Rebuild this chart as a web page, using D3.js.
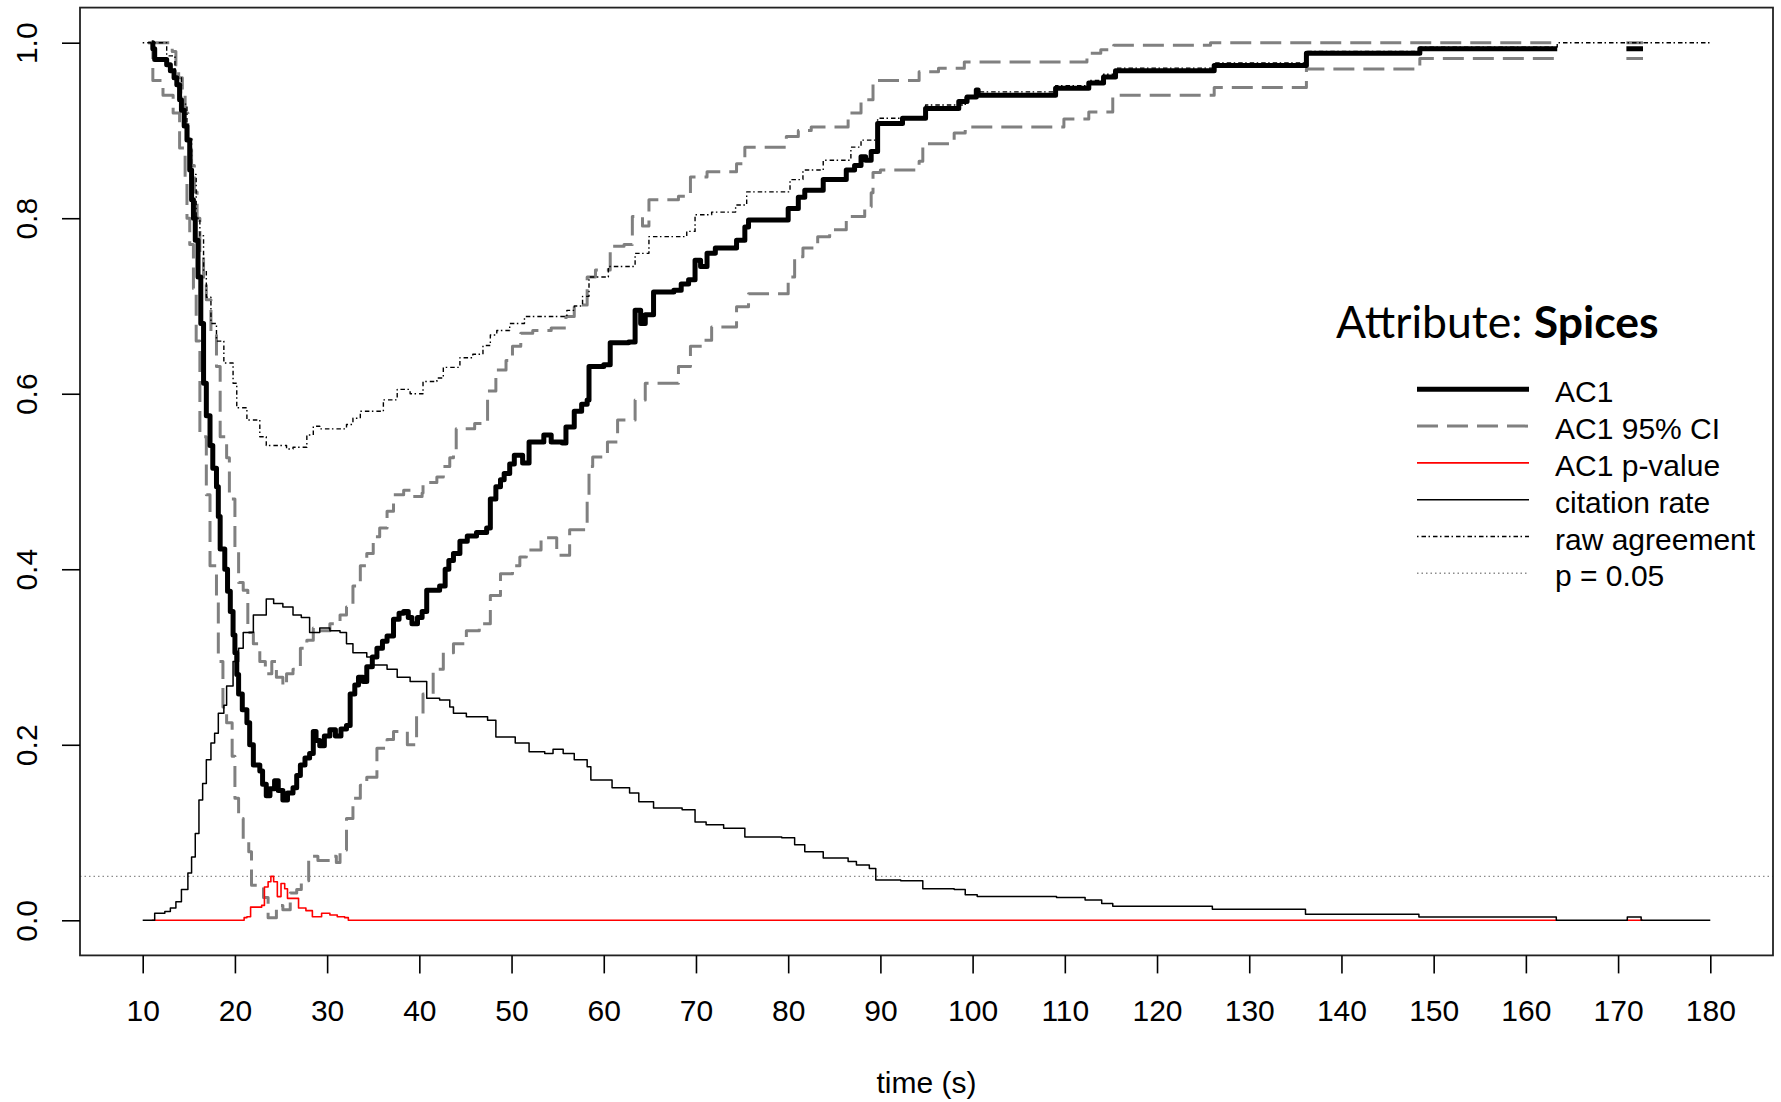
<!DOCTYPE html>
<html>
<head>
<meta charset="utf-8">
<script src="https://cdn.jsdelivr.net/npm/d3@7"></script>
<style>
  html, body { margin: 0; padding: 0; background: #fff; }
  svg { display: block; }
  .axis text { font-family: "Liberation Sans", Arial, sans-serif; font-size: 30px; fill: #000; }
  .axis line { stroke: #000; stroke-width: 1.6px; }
</style>
</head>
<body>
<svg id="chart" width="1781" height="1102"></svg>
<script>
// Step series: [time in seconds, value]; null marks a gap in the series.
const ac1 = [
  [10.98,1.0],[11.1,0.993],[11.3,0.981],[12.6,0.975],[13.0,0.968],[13.4,0.96],[13.7,0.952],[14.0,0.935],
  [14.2,0.923],[14.5,0.905],[14.8,0.889],[15.1,0.855],[15.3,0.821],[15.5,0.80],[15.7,0.775],[16.0,0.733],
  [16.3,0.68],[16.6,0.612],[16.9,0.575],[17.3,0.541],[17.6,0.515],[18.0,0.494],[18.2,0.46],[18.4,0.423],
  [18.9,0.40],[19.2,0.375],[19.5,0.352],[19.8,0.325],[20.0,0.305],[20.2,0.28],[20.4,0.258],[20.8,0.24],
  [21.3,0.225],[21.6,0.2],[22.0,0.177],[22.7,0.17],[23.0,0.155],[23.4,0.142],[23.8,0.15],[24.3,0.159],
  [24.7,0.148],[25.2,0.137],[25.7,0.145],[26.3,0.151],[26.7,0.165],[27.1,0.177],[27.6,0.185],[28.1,0.19],
  [28.5,0.215],[28.8,0.205],[29.2,0.199],[29.7,0.21],[30.3,0.217],[30.9,0.21],[31.5,0.218],[32.1,0.222],
  [32.5,0.258],[33.0,0.268],[33.4,0.277],[33.9,0.272],[34.3,0.289],[34.9,0.3],[35.4,0.31],[36.0,0.318],
  [36.5,0.324],[37.2,0.343],[37.8,0.35],[38.3,0.352],[38.8,0.345],[39.2,0.338],[39.8,0.345],[40.3,0.352],
  [40.8,0.376],[42.2,0.381],[42.8,0.4],[43.2,0.41],[43.7,0.418],[44.4,0.432],[45.2,0.438],[46.2,0.442],
  [47.3,0.447],[47.7,0.48],[48.3,0.494],[48.8,0.502],[49.2,0.509],[49.8,0.52],[50.3,0.53],[51.2,0.521],
  [51.9,0.545],[53.5,0.553],[54.3,0.545],[55.5,0.544],[55.9,0.562],[56.8,0.58],[57.6,0.588],[58.2,0.593],
  [58.4,0.631],[60.0,0.633],[60.7,0.658],[62.7,0.659],[63.4,0.695],[64.0,0.68],[64.5,0.69],[65.4,0.716],
  [67.6,0.718],[68.4,0.725],[69.2,0.73],[69.9,0.752],[70.5,0.745],[71.2,0.76],[72.1,0.766],[74.4,0.775],
  [75.3,0.79],[75.7,0.798],[80.0,0.811],[81.1,0.824],[81.8,0.832],[83.8,0.844],[86.3,0.855],[87.2,0.86],
  [87.9,0.87],[88.4,0.866],[89.0,0.876],[89.7,0.908],[92.4,0.914],[94.9,0.925],[98.5,0.933],[99.4,0.938],
  [100.4,0.946],[100.6,0.94],[109.0,0.948],[112.6,0.954],[114.2,0.961],[115.5,0.968],[126.2,0.974],
  [136.2,0.988],[148.5,0.993],[163.4,0.993],[163.5,null],[170.9,0.993],[172.7,0.993]
];

const ac1Upper = [
  [10.6,1.0],[13.2,0.99],[13.6,0.975],[13.9,0.96],[14.3,0.94],[14.6,0.92],[14.9,0.89],[15.3,0.86],
  [15.6,0.83],[15.9,0.8],[16.2,0.76],[16.6,0.73],[16.9,0.707],[17.4,0.67],[18.0,0.631],[18.4,0.551],
  [19.1,0.527],[19.4,0.48],[20.0,0.423],[20.4,0.385],[20.9,0.376],[21.4,0.328],[22.0,0.315],[22.7,0.295],
  [23.3,0.281],[24.0,0.295],[24.5,0.277],[25.2,0.267],[25.6,0.281],[26.3,0.286],[27.1,0.31],[27.8,0.319],
  [28.5,0.333],[29.2,0.33],[30.3,0.338],[31.4,0.348],[32.1,0.357],[32.8,0.381],[33.6,0.404],[34.3,0.418],
  [35.0,0.437],[35.7,0.447],[36.5,0.466],[37.2,0.485],[38.3,0.49],[39.2,0.483],[40.3,0.487],[40.4,0.499],
  [41.9,0.505],[42.6,0.517],[43.3,0.527],[43.7,0.532],[44.0,0.56],[46.0,0.566],[47.4,0.603],[48.3,0.627],
  [49.4,0.638],[50.1,0.654],[51.0,0.669],[52.3,0.672],[54.3,0.675],[55.9,0.688],[56.8,0.701],[58.2,0.733],
  [59.1,0.741],[60.7,0.768],[62.2,0.77],[63.1,0.802],[64.2,0.791],[64.9,0.821],[68.1,0.825],[69.4,0.847],
  [71.2,0.853],[74.4,0.862],[75.3,0.881],[79.8,0.893],[81.1,0.9],[82.5,0.904],[86.5,0.92],[87.9,0.935],
  [89.2,0.957],[94.2,0.967],[96.3,0.971],[99.1,0.978],[112.4,0.988],[113.9,0.992],[115.3,0.997],
  [125.8,1.0],[163.4,1.0],[163.5,null],[170.9,1.0],[172.7,1.0]
];

const ac1Lower = [
  [10.6,1.0],[11.1,0.957],[12.2,0.94],[13.3,0.92],[14.0,0.88],[14.6,0.845],[14.8,0.8],[15.1,0.77],
  [15.5,0.72],[15.8,0.66],[16.2,0.551],[16.9,0.485],[17.3,0.404],[18.0,0.366],[18.2,0.295],[18.7,0.243],
  [19.1,0.225],[19.7,0.187],[20.0,0.139],[20.4,0.116],[20.9,0.092],[21.5,0.078],[21.8,0.04],[23.1,0.026],
  [23.6,0.003],[24.5,0.017],[25.2,0.012],[26.0,0.031],[26.7,0.035],[27.2,0.045],[28.0,0.073],[29.0,0.068],
  [30.4,0.073],[31.0,0.066],[31.4,0.08],[32.1,0.116],[32.8,0.139],[33.6,0.154],[34.3,0.163],[35.4,0.196],
  [36.5,0.206],[37.2,0.215],[38.7,0.2],[39.7,0.234],[40.4,0.258],[41.5,0.286],[42.6,0.305],[43.7,0.315],
  [45.1,0.33],[46.5,0.338],[47.7,0.37],[48.8,0.395],[50.1,0.404],[50.9,0.414],[51.6,0.422],[53.2,0.436],
  [54.9,0.416],[56.3,0.445],[58.2,0.479],[58.4,0.517],[58.8,0.528],[60.4,0.545],[61.5,0.57],[63.4,0.593],
  [64.5,0.612],[68.1,0.631],[69.4,0.654],[70.8,0.661],[71.7,0.676],[74.4,0.699],[75.7,0.714],[80.0,0.733],
  [80.7,0.756],[81.6,0.766],[83.2,0.779],[84.5,0.787],[86.3,0.802],[88.3,0.813],[89.0,0.829],[89.2,0.852],
  [90.0,0.855],[94.2,0.865],[94.6,0.885],[98.0,0.897],[99.2,0.904],[109.9,0.913],[112.6,0.921],
  [115.2,0.94],[126.2,0.949],[136.2,0.97],[148.5,0.982],[163.4,0.982],[163.5,null],[170.9,0.982],[172.7,0.982]
];

const pValue = [
  [11.0,0],[21.0,0.003],[21.3,0.004],[21.7,0.015],[22.9,0.017],[23.2,0.038],[23.6,0.044],[23.9,0.05],
  [24.2,0.044],[24.6,0.027],[25.0,0.042],[25.4,0.036],[25.7,0.025],[26.9,0.014],[27.7,0.011],[28.4,0.004],
  [29.4,0.008],[30.3,0.006],[31.1,0.004],[31.9,0.003],[32.3,0],[163.4,0],[163.5,null],[170.9,0],[172.7,0]
];

const citationRate = [
  [10,0],[11.3,0.008],[12.4,0.01],[13.0,0.014],[13.6,0.021],[14.2,0.035],[14.9,0.054],[15.3,0.072],
  [15.7,0.099],[16.1,0.137],[16.5,0.156],[16.9,0.183],[17.4,0.202],[17.8,0.213],[18.2,0.236],[18.8,0.245],
  [19.1,0.267],[19.8,0.295],[20.4,0.31],[20.9,0.328],[22.0,0.348],[23.4,0.366],[24.2,0.361],[25.2,0.357],
  [26.3,0.348],[27.2,0.345],[28.1,0.328],[29.2,0.333],[30.3,0.33],[31.4,0.328],[32.1,0.315],[32.8,0.305],
  [34.3,0.3],[35.0,0.291],[36.5,0.286],[37.6,0.277],[39.0,0.272],[40.8,0.253],[42.2,0.251],[43.3,0.243],
  [43.7,0.236],[45.1,0.232],[47.4,0.228],[48.3,0.209],[50.4,0.202],[51.9,0.192],[53.6,0.19],[54.5,0.195],
  [55.6,0.19],[56.8,0.183],[58.2,0.175],[58.6,0.16],[60.9,0.151],[62.8,0.145],[63.8,0.135],[65.4,0.128],
  [68.5,0.126],[69.9,0.112],[71.1,0.109],[73.0,0.105],[75.3,0.095],[79.3,0.094],[80.7,0.086],[81.8,0.078],
  [83.8,0.071],[86.5,0.067],[87.4,0.063],[88.8,0.059],[89.5,0.046],[92.2,0.045],[94.6,0.036],[98.0,0.035],
  [99.2,0.029],[100.5,0.027],[109.1,0.026],[112.2,0.023],[114.0,0.019],[115.2,0.016],[126.0,0.0125],
  [136.1,0.007],[148.4,0.0038],[163.3,0],[171.0,0.0038],[172.5,0],[180,0]
];

const rawAgreement = [
  [10,1.0],[12.6,0.985],[13.5,0.96],[14.2,0.93],[14.8,0.89],[15.3,0.85],[15.8,0.8],[16.2,0.78],[16.6,0.74],
  [16.9,0.71],[17.4,0.68],[18.0,0.66],[18.8,0.635],[19.8,0.612],[20.2,0.584],[21.3,0.57],[22.7,0.551],
  [23.4,0.541],[25.6,0.537],[26.3,0.539],[27.8,0.553],[28.5,0.563],[29.2,0.56],[32.1,0.565],[32.8,0.572],
  [33.6,0.58],[36.1,0.593],[37.6,0.605],[39.0,0.6],[40.4,0.614],[41.9,0.618],[42.6,0.63],[44.4,0.641],
  [45.8,0.645],[46.9,0.655],[47.7,0.667],[48.4,0.672],[49.8,0.68],[51.4,0.688],[56.0,0.695],[56.8,0.70],
  [57.7,0.711],[58.4,0.733],[60.5,0.745],[63.4,0.76],[64.9,0.779],[69.0,0.785],[69.9,0.804],[71.7,0.807],
  [74.3,0.815],[75.5,0.83],[80.2,0.844],[81.6,0.855],[83.8,0.866],[86.8,0.881],[87.9,0.889],[89.7,0.914],
  [94.9,0.929],[99.2,0.938],[100.5,0.944],[109.0,0.951],[112.6,0.957],[114.2,0.964],[115.5,0.971],
  [126.2,0.977],[136.2,0.99],[148.5,0.995],[163.4,1.0],[180,1.0]
];

const significanceLevel = 0.05;
const xTicks = [10,20,30,40,50,60,70,80,90,100,110,120,130,140,150,160,170,180];
const yTicks = [0,0.2,0.4,0.6,0.8,1.0];
const xLabel = "time (s)";
const titleLead = "Attribute: ";
const titleName = "Spices";
const legendLabels = ["AC1", "AC1 95% CI", "AC1 p-value", "citation rate", "raw agreement", "p = 0.05"];

// Line styles shared by the plot and the legend
const styles = {
  ac1:      { stroke: "#000",    width: 5,   dash: null },
  ci:       { stroke: "#808080", width: 3,   dash: "21,9" },
  pval:     { stroke: "#ff0000", width: 1.6, dash: null },
  citation: { stroke: "#000",    width: 1.5, dash: null },
  raw:      { stroke: "#000",    width: 1.4, dash: "1.5,3,4.5,2.5" },
  sig:      { stroke: "#8c8c8c", width: 1.4, dash: "1.5,3" }
};

const svg = d3.select("#chart");
const plot = { left: 80, right: 1773, top: 7.6, bottom: 955.4 };

const x = d3.scaleLinear().domain([3.2, 186.8]).range([plot.left, plot.right]);
const y = d3.scaleLinear().domain([-0.04, 1.04]).range([plot.bottom, plot.top]);

const line = d3.line()
  .defined(d => d[1] !== null)
  .x(d => x(d[0]))
  .y(d => y(d[1]))
  .curve(d3.curveStepAfter);

function applyStyle(sel, s) {
  sel.attr("fill", "none")
    .attr("stroke", s.stroke)
    .attr("stroke-width", s.width)
    .attr("stroke-linejoin", "round");
  if (s.dash) sel.attr("stroke-dasharray", s.dash);
  return sel;
}

svg.append("defs").append("clipPath").attr("id", "plot-clip")
  .append("rect")
  .attr("x", plot.left).attr("y", plot.top)
  .attr("width", plot.right - plot.left).attr("height", plot.bottom - plot.top);

const g = svg.append("g").attr("clip-path", "url(#plot-clip)");

// Significance threshold across the whole panel
applyStyle(g.append("line"), styles.sig)
  .attr("x1", plot.left).attr("x2", plot.right)
  .attr("y1", y(significanceLevel)).attr("y2", y(significanceLevel));

// Confidence bounds, then the estimate and the companion series
applyStyle(g.append("path").datum(ac1Upper).attr("d", line), styles.ci);
applyStyle(g.append("path").datum(ac1Lower).attr("d", line), styles.ci);
applyStyle(g.append("path").datum(ac1).attr("d", line), styles.ac1);
applyStyle(g.append("path").datum(pValue).attr("d", line), styles.pval);
applyStyle(g.append("path").datum(citationRate).attr("d", line), styles.citation);
applyStyle(g.append("path").datum(rawAgreement).attr("d", line), styles.raw);

// Frame
svg.append("rect")
  .attr("x", plot.left).attr("y", plot.top)
  .attr("width", plot.right - plot.left).attr("height", plot.bottom - plot.top)
  .attr("fill", "none").attr("stroke", "#222").attr("stroke-width", 1.8);

// X axis
const xAxis = svg.append("g").attr("class", "axis")
  .attr("transform", `translate(0,${plot.bottom})`)
  .call(d3.axisBottom(x).tickValues(xTicks).tickSize(18).tickFormat(d3.format("d")));
xAxis.select(".domain").remove();
xAxis.selectAll("text").attr("y", 66).attr("dy", null);

// Y axis with rotated labels
const yAxis = svg.append("g").attr("class", "axis")
  .attr("transform", `translate(${plot.left},0)`)
  .call(d3.axisLeft(y).tickValues(yTicks).tickSize(18).tickFormat(d3.format(".1f")));
yAxis.select(".domain").remove();
yAxis.selectAll("text")
  .attr("x", null).attr("dy", null)
  .attr("text-anchor", "middle")
  .attr("transform", "translate(-43,0) rotate(-90)");

// Axis title
svg.append("text")
  .attr("x", (plot.left + plot.right) / 2).attr("y", 1093)
  .attr("text-anchor", "middle")
  .style("font-family", "'Liberation Sans', Arial, sans-serif")
  .style("font-size", "30px")
  .text(xLabel);

// Legend
const title = svg.append("text")
  .attr("x", 1336).attr("y", 338)
  .style("font-family", "Lato, 'Open Sans', sans-serif")
  .style("font-size", "44.5px");
title.append("tspan").text(titleLead);
title.append("tspan").style("font-weight", "bold").text(titleName);

const legendStyles = [styles.ac1, styles.ci, styles.pval, { stroke: "#000", width: 1.5, dash: null }, styles.raw, styles.sig];
const legend = svg.append("g");
legendLabels.forEach((label, i) => {
  const rowY = 389.3 + i * 36.8;
  applyStyle(legend.append("line"), legendStyles[i])
    .attr("x1", 1417).attr("x2", 1529)
    .attr("y1", rowY).attr("y2", rowY);
  legend.append("text")
    .attr("x", 1555).attr("y", rowY + 13)
    .style("font-family", "'Liberation Sans', Arial, sans-serif")
    .style("font-size", "30px")
    .text(label);
});
</script>
</body>
</html>
